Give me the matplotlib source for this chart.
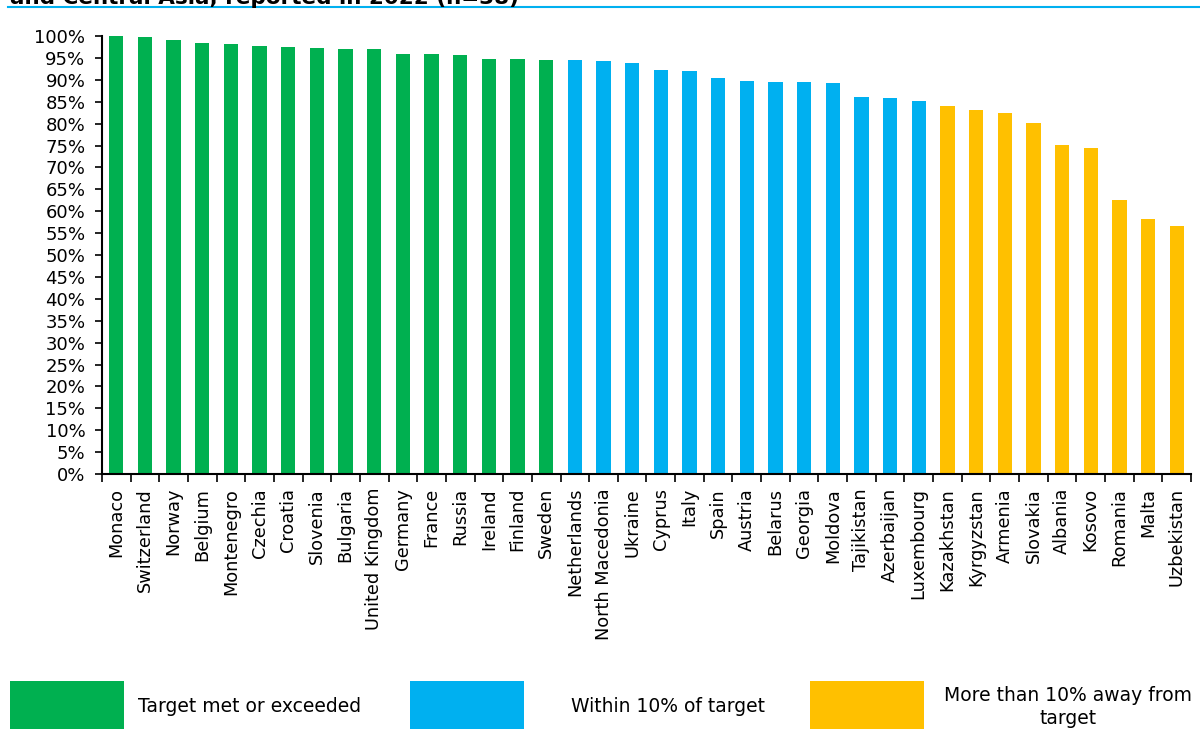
import matplotlib
matplotlib.use("Agg")
import matplotlib.pyplot as plt
from matplotlib.patches import Rectangle
from matplotlib.lines import Line2D
from matplotlib.ticker import PercentFormatter, MultipleLocator

# --- data ---
countries = [
    "Monaco", "Switzerland", "Norway", "Belgium", "Montenegro", "Czechia",
    "Croatia", "Slovenia", "Bulgaria", "United Kingdom", "Germany", "France",
    "Russia", "Ireland", "Finland", "Sweden", "Netherlands", "North Macedonia",
    "Ukraine", "Cyprus", "Italy", "Spain", "Austria", "Belarus", "Georgia",
    "Moldova", "Tajikistan", "Azerbaijan", "Luxembourg", "Kazakhstan",
    "Kyrgyzstan", "Armenia", "Slovakia", "Albania", "Kosovo", "Romania",
    "Malta", "Uzbekistan",
]
values = [
    100.0, 99.7, 99.1, 98.4, 98.2, 97.7, 97.5, 97.3, 97.0, 97.0, 95.9, 95.9,
    95.7, 94.7, 94.7, 94.5, 94.5, 94.3, 93.8, 92.2, 92.0, 90.4, 89.7, 89.5,
    89.5, 89.3, 86.1, 85.9, 85.2, 84.0, 83.1, 82.4, 80.1, 75.1, 74.4, 62.6,
    58.2, 56.6,
]
# 0 = target met, 1 = within 10%, 2 = more than 10% away
groups = [0] * 16 + [1] * 13 + [2] * 9
group_labels = ["Target met or exceeded", "Within 10% of target",
                "More than 10% away from\ntarget"]
group_colors = ["#00B050", "#00B0F0", "#FFC000"]

title = "and Central Asia, reported in 2022 (n=38)"

plt.rcParams["font.family"] = ["DejaVu Sans"]

fig = plt.figure(figsize=(12, 7.29), dpi=100)
ax = fig.add_axes([0.085, 0.3498, 0.9075, 0.6008])

x = list(range(len(countries)))
ax.bar(x, values, width=0.5, color=[group_colors[g] for g in groups])

ax.set_xlim(-0.5, len(countries) - 0.5)
ax.set_ylim(0, 100)
ax.yaxis.set_major_locator(MultipleLocator(5))
ax.yaxis.set_major_formatter(PercentFormatter(decimals=0))
ax.tick_params(axis="y", labelsize=13, length=5, width=1.2, pad=7)

# category labels between boundary ticks
ax.set_xticks(x)
ax.set_xticklabels(countries, rotation=90, fontsize=12.8)
ax.tick_params(axis="x", length=0, pad=10)
ax.set_xticks([i - 0.5 for i in range(len(countries) + 1)], minor=True)
ax.tick_params(axis="x", which="minor", length=6, width=1.2)

for side in ("top", "right"):
    ax.spines[side].set_visible(False)
for side in ("left", "bottom"):
    ax.spines[side].set_linewidth(1.5)

# heading cut off at the top edge, with blue rule below it
fig.text(10 / 1200, 1 - 4 / 729, title, fontsize=15.5, fontweight="bold",
         va="baseline", ha="left")
fig.add_artist(Line2D([8 / 1200, 1], [1 - 7 / 729, 1 - 7 / 729],
                      color="#00B0F0", lw=1.5))

# legend boxes at the bottom
box_x = [10, 410, 810]
text_x = [250, 668, 1068]
for bx, tx, lab, col in zip(box_x, text_x, group_labels, group_colors):
    fig.add_artist(Rectangle((bx / 1200, 0), 114 / 1200, 48 / 729,
                             transform=fig.transFigure, color=col, lw=0))
    fig.text(tx / 1200, 1 - 707 / 729, lab, fontsize=13.5, ha="center",
             va="center", linespacing=1.25)

fig.savefig("out.png", dpi=100)
